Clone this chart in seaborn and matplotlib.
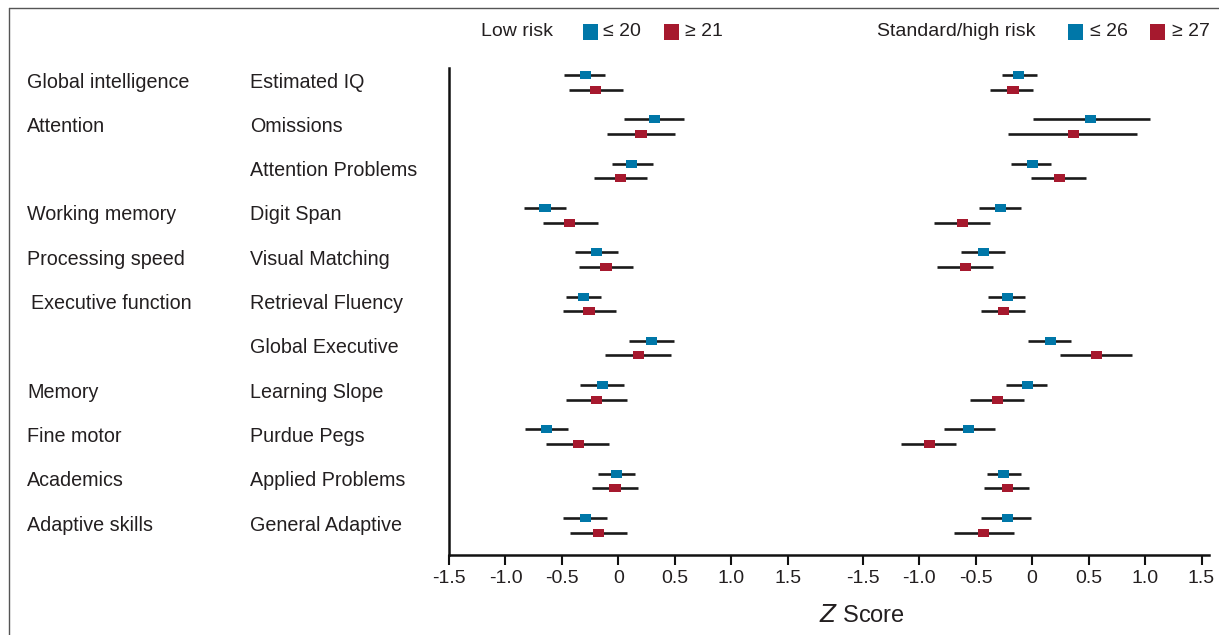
import numpy as np
import pandas as pd
import matplotlib
matplotlib.use("Agg")
import matplotlib.pyplot as plt
import matplotlib.transforms as mtransforms
from matplotlib.patches import Rectangle
from matplotlib.lines import Line2D
import seaborn as sns

# ---- data (Z scores) ----
domains = ["Global intelligence", "Attention", "", "Working memory", "Processing speed",
           "Executive function", "", "Memory", "Fine motor", "Academics", "Adaptive skills"]
measures = ["Estimated IQ", "Omissions", "Attention Problems", "Digit Span", "Visual Matching",
            "Retrieval Fluency", "Global Executive", "Learning Slope", "Purdue Pegs",
            "Applied Problems", "General Adaptive"]

# low risk, <= 20
low_a_est = [-0.29, 0.32, 0.12, -0.65, -0.19, -0.31, 0.29, -0.14, -0.64, -0.02, -0.29]
low_a_lo = [-0.48, 0.05, -0.06, -0.84, -0.38, -0.46, 0.09, -0.34, -0.83, -0.18, -0.49]
low_a_hi = [-0.12, 0.58, 0.31, -0.46, 0.00, -0.15, 0.49, 0.05, -0.45, 0.15, -0.10]
# low risk, >= 21
low_b_est = [-0.20, 0.20, 0.02, -0.43, -0.11, -0.26, 0.18, -0.19, -0.35, -0.03, -0.18]
low_b_lo = [-0.44, -0.10, -0.22, -0.67, -0.35, -0.49, -0.12, -0.46, -0.64, -0.23, -0.43]
low_b_hi = [0.04, 0.50, 0.25, -0.18, 0.13, -0.02, 0.47, 0.08, -0.08, 0.17, 0.08]
# standard/high risk, <= 26
high_a_est = [-0.12, 0.52, 0.00, -0.28, -0.43, -0.22, 0.16, -0.04, -0.56, -0.25, -0.22]
high_a_lo = [-0.27, 0.01, -0.19, -0.47, -0.63, -0.39, -0.04, -0.23, -0.78, -0.40, -0.45]
high_a_hi = [0.04, 1.04, 0.17, -0.10, -0.24, -0.06, 0.34, 0.13, -0.33, -0.10, -0.01]
# standard/high risk, >= 27
high_b_est = [-0.17, 0.37, 0.24, -0.62, -0.59, -0.25, 0.57, -0.31, -0.91, -0.22, -0.43]
high_b_lo = [-0.37, -0.21, -0.01, -0.87, -0.84, -0.45, 0.25, -0.55, -1.16, -0.43, -0.69]
high_b_hi = [0.01, 0.93, 0.48, -0.37, -0.35, -0.06, 0.88, -0.07, -0.67, -0.03, -0.16]

tick_vals = [-1.5, -1.0, -0.5, 0, 0.5, 1.0, 1.5]
tick_text = ["-1.5", "-1.0", "-0.5", "0", "0.5", "1.0", "1.5"]

BLUE = "#0077a8"
RED = "#a6192e"
INK = "#231f20"
OFFSET = 3.664  # horizontal shift of the right-hand panel

rows = []
for panel, shift, series in [
    ("low", 0.0, [("a", low_a_est, low_a_lo, low_a_hi), ("b", low_b_est, low_b_lo, low_b_hi)]),
    ("high", OFFSET, [("a", high_a_est, high_a_lo, high_a_hi), ("b", high_b_est, high_b_lo, high_b_hi)]),
]:
    for level, est, lo, hi in series:
        for i, m in enumerate(measures):
            rows.append({
                "panel": panel, "level": level, "measure": m,
                "y": i + (0.0 if level == "a" else 0.33),
                "x": est[i] + shift, "lo": lo[i] + shift, "hi": hi[i] + shift,
            })
df = pd.DataFrame(rows)

sns.set_style("white")
plt.rcParams["font.family"] = ["Liberation Sans", "DejaVu Sans"]

fig = plt.figure(figsize=(12.19, 6.35), dpi=100)
ax = fig.add_axes([449 / 1219, 1 - 555 / 635, 760 / 1219, (555 - 68) / 635])

ax.hlines(df["y"], df["lo"], df["hi"], color="#1a1a1a", lw=1.9, zorder=1)
rect = [(-1, -0.72), (1, -0.72), (1, 0.72), (-1, 0.72)]
sns.scatterplot(data=df, x="x", y="y", hue="level", palette={"a": BLUE, "b": RED},
                marker=rect, s=64, linewidth=0, legend=False, zorder=3, ax=ax)

ax.set_xlim(-1.5, (1209 - 618) / 113)
ax.set_ylim((555 - 75) / 44.3, (68 - 75) / 44.3)
ax.set_xticks(tick_vals + [t + OFFSET for t in tick_vals])
ax.set_xticklabels(tick_text + tick_text, fontsize=14, color=INK)
ax.set_yticks([])
ax.set_xlabel("")
ax.set_ylabel("")
for side in ["top", "right"]:
    ax.spines[side].set_visible(False)
for side in ["left", "bottom"]:
    ax.spines[side].set_linewidth(1.8)
    ax.spines[side].set_color("#111111")
ax.tick_params(axis="x", bottom=True, length=7, width=1.5, color="#111111", pad=4)

# row labels
tr = mtransforms.blended_transform_factory(fig.transFigure, ax.transData)
for i, (d, m) in enumerate(zip(domains, measures)):
    dx = 31 if d == "Executive function" else 27
    ax.text(dx / 1219, i + 0.16, d, transform=tr, fontsize=14.2, color=INK, va="center", ha="left")
    ax.text(250 / 1219, i + 0.16, m, transform=tr, fontsize=14.2, color=INK, va="center", ha="left")

# axis label
fig.text(862 / 1219, 1 - 616 / 635, r"$\it{Z}$ Score", fontsize=17, color=INK, ha="center", va="center")

# legend row
def px(x, y):
    return x / 1219, 1 - y / 635

ly = 31
fig.text(*px(481, ly), "Low risk", fontsize=14, color=INK, va="center")
fig.text(*px(603, ly), "≤ 20", fontsize=14, color=INK, va="center")
fig.text(*px(685, ly), "≥ 21", fontsize=14, color=INK, va="center")
fig.text(*px(877, ly), "Standard/high risk", fontsize=14, color=INK, va="center")
fig.text(*px(1090, ly), "≤ 26", fontsize=14, color=INK, va="center")
fig.text(*px(1172, ly), "≥ 27", fontsize=14, color=INK, va="center")
for x0, c in [(583, BLUE), (664, RED), (1068, BLUE), (1150, RED)]:
    fig.patches.append(Rectangle(px(x0, 40), 15 / 1219, 16 / 635, transform=fig.transFigure,
                                 facecolor=c, edgecolor="none"))

# outer frame
fig.lines.append(Line2D([9 / 1219, 1.01], [1 - 8 / 635, 1 - 8 / 635], transform=fig.transFigure,
                        color="#555555", lw=1.0))
fig.lines.append(Line2D([9 / 1219, 9 / 1219], [1 - 8 / 635, -0.01], transform=fig.transFigure,
                        color="#555555", lw=1.0))

fig.savefig("out.png", dpi=100)
